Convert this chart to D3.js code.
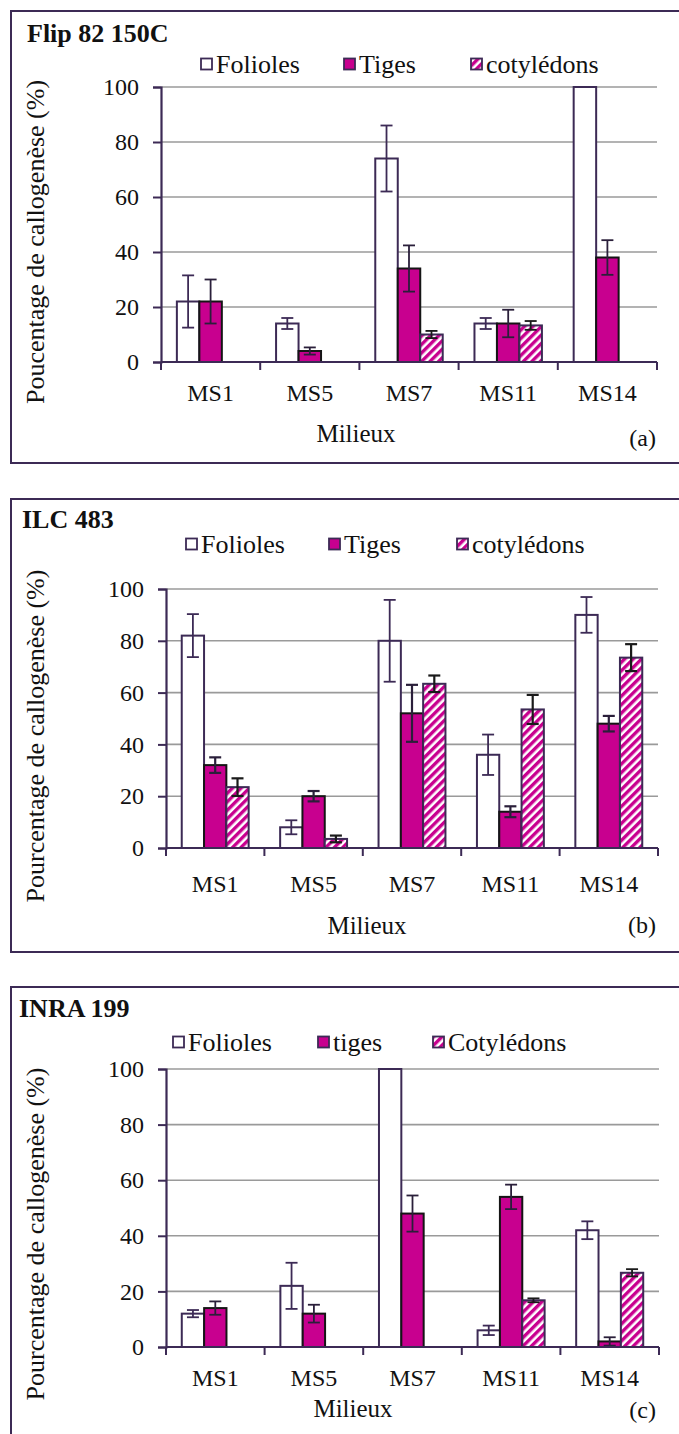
<!DOCTYPE html>
<html><head><meta charset="utf-8">
<script src="https://cdn.jsdelivr.net/npm/d3@7"></script>
<style>html,body{margin:0;padding:0;background:#fff;}svg{display:block;}
svg text{font-family:"Liberation Serif","Times New Roman",serif !important;}</style>
</head><body>
<svg id="c" width="679" height="1434"></svg>
<script>
// ---------- DATA ----------
const categories = ["MS1", "MS5", "MS7", "MS11", "MS14"];
const yTicks = [0, 20, 40, 60, 80, 100];
const panelTitles = ["Flip 82 150C", "ILC 483", "INRA 199"];
const panelLetters = ["(a)", "(b)", "(c)"];
const yTitles = ["Poucentage de callogenèse (%)", "Pourcentage de callogenèse (%)", "Pourcentage de callogenèse (%)"];
const xTitle = "Milieux";
const seriesNamesA = ["Folioles", "Tiges", "cotylédons"];
const seriesNamesB = ["Folioles", "Tiges", "cotylédons"];
const seriesNamesC = ["Folioles", "tiges", "Cotylédons"];

// Panel (a) Flip 82 150C
const folA = [22, 14, 74, 14, 100];
const folErrA = [9.5, 2, 12, 2, 0];
const tigA = [22, 4, 34, 14, 38];
const tigErrA = [8, 1.3, 8.4, 5, 6.3];
const cotA = [0, 0, 10, 13.3, 0];
const cotErrA = [0, 0, 1.3, 1.6, 0];
// Panel (b) ILC 483
const folB = [82, 8, 80, 36, 90];
const folErrB = [8.3, 2.7, 15.8, 7.8, 6.9];
const tigB = [32, 20, 52, 14, 48];
const tigErrB = [3, 2, 11, 2.1, 3];
const cotB = [23.5, 3.5, 63.4, 53.5, 73.5];
const cotErrB = [3.4, 1.3, 3.2, 5.6, 5.2];
// Panel (c) INRA 199
const folC = [12, 22, 100, 6, 42];
const folErrC = [1.3, 8.3, 0, 1.7, 3.2];
const tigC = [14, 12, 48, 54, 2];
const tigErrC = [2.4, 3.2, 6.5, 4.4, 1.5];
const cotC = [0, 0, 0, 16.8, 26.7];
const cotErrC = [0, 0, 0, 0.7, 1.3];

// ---------- LAYOUT / STYLE ----------
const FONT = "Liberation Serif, Times New Roman, serif";
const MAG = "#c8008f";
const DARK = "#3c2a55";
const svg = d3.select("#c");

const defs = svg.append("defs");
const pat = defs.append("pattern").attr("id", "hatch").attr("patternUnits", "userSpaceOnUse")
  .attr("width", 6).attr("height", 6).attr("patternTransform", "rotate(45)");
pat.append("rect").attr("width", 6).attr("height", 6).attr("fill", "#fff");
pat.append("rect").attr("width", 3.4).attr("height", 6).attr("fill", MAG);

const panels = [
  {names: seriesNamesA, vals: [folA, tigA, cotA], errs: [folErrA, tigErrA, cotErrA],
   box: [11, 463], x0: 161, x1: 657, yTop: 87, yBot: 362, titleX: 27, titleY: 42,
   legY: 64, legX: [201, 344, 471], yTitleY: 242, catY: 393, milX: 356, milY: 433, letY: 438},
  {names: seriesNamesB, vals: [folB, tigB, cotB], errs: [folErrB, tigErrB, cotErrB],
   box: [499, 952], x0: 166, x1: 658, yTop: 589, yBot: 848, titleX: 22, titleY: 528,
   legY: 544, legX: [186, 329, 457], yTitleY: 736, catY: 884, milX: 367, milY: 925, letY: 925},
  {names: seriesNamesC, vals: [folC, tigC, cotC], errs: [folErrC, tigErrC, cotErrC],
   box: [987, 1445], x0: 166, x1: 659, yTop: 1069, yBot: 1347, titleX: 19, titleY: 1017,
   legY: 1042, legX: [173, 318, 433], yTitleY: 1234, catY: 1378, milX: 353, milY: 1408, letY: 1410}
];

const fills = ["#fff", MAG, "url(#hatch)"];
const strokes = [DARK, "#151515", DARK];
const errColors = [DARK, "#2a1f3a", "#1a1a1a"];

panels.forEach((p, pi) => {
  const g = svg.append("g");
  g.append("rect").attr("x", 11).attr("y", p.box[0]).attr("width", 700).attr("height", p.box[1] - p.box[0])
    .attr("fill", "none").attr("stroke", DARK).attr("stroke-width", 2);

  const x = d3.scaleBand().domain(categories).range([p.x0, p.x1]).paddingInner(0.32).paddingOuter(0.16);
  const xs = d3.scaleBand().domain([0, 1, 2]).range([0, x.bandwidth()]);
  const y = d3.scaleLinear().domain([0, 100]).range([p.yBot, p.yTop]);

  g.append("g").selectAll("line").data(yTicks.filter(t => t > 0)).join("line")
    .attr("x1", p.x0).attr("x2", p.x1).attr("y1", d => y(d)).attr("y2", d => y(d))
    .attr("stroke", "#9a9a9a").attr("stroke-width", 1.6);

  [0, 1, 2].forEach(s => {
    const vals = p.vals[s];
    g.append("g").selectAll("rect").data(categories).join("rect")
      .attr("x", (d) => x(d) + xs(s))
      .attr("y", (d, i) => y(vals[i]))
      .attr("width", xs.bandwidth())
      .attr("height", (d, i) => y(0) - y(vals[i]))
      .attr("fill", fills[s]).attr("stroke", strokes[s]).attr("stroke-width", 2);
  });

  [0, 1, 2].forEach(s => {
    const vals = p.vals[s], errs = p.errs[s];
    const eg = g.append("g").attr("stroke", errColors[s]).attr("stroke-width", pi === 1 && s > 0 ? 2.2 : 1.8);
    categories.forEach((c, i) => {
      if (!errs[i]) return;
      const cx = x(c) + xs(s) + xs.bandwidth() / 2;
      const hi = y(Math.min(vals[i] + errs[i], 100)), lo = y(vals[i] - errs[i]);
      eg.append("line").attr("x1", cx).attr("x2", cx).attr("y1", hi).attr("y2", lo);
      eg.append("line").attr("x1", cx - 6).attr("x2", cx + 6).attr("y1", hi).attr("y2", hi);
      eg.append("line").attr("x1", cx - 6).attr("x2", cx + 6).attr("y1", lo).attr("y2", lo);
    });
  });

  const yAx = g.append("g").attr("transform", `translate(${p.x0},0)`)
    .call(d3.axisLeft(y).tickValues(yTicks).tickSize(8).tickPadding(14));
  yAx.attr("font-family", FONT);
  yAx.select(".domain").attr("stroke", DARK).attr("stroke-width", 2.2);
  yAx.selectAll(".tick line").attr("stroke", DARK).attr("stroke-width", 2);
  yAx.selectAll(".tick text").attr("font-family", FONT).attr("font-size", 24).attr("fill", "#111");

  const bounds = categories.map(c => x(c) - x.step() * x.paddingInner() / 2).concat([p.x1]);
  g.append("line").attr("x1", p.x0).attr("x2", p.x1).attr("y1", y(0)).attr("y2", y(0))
    .attr("stroke", DARK).attr("stroke-width", 2.2);
  g.append("g").selectAll("line").data(bounds).join("line")
    .attr("x1", d => d).attr("x2", d => d).attr("y1", y(0)).attr("y2", y(0) + 8)
    .attr("stroke", DARK).attr("stroke-width", 2);
  g.append("g").selectAll("text").data(categories).join("text")
    .attr("x", d => x(d) + x.bandwidth() / 2).attr("y", p.catY)
    .attr("text-anchor", "middle").attr("dominant-baseline", "central")
    .attr("font-family", FONT).attr("font-size", 24).attr("fill", "#111").text(d => d);

  g.append("text").attr("x", p.titleX).attr("y", p.titleY).attr("font-family", FONT)
    .attr("font-weight", "bold").attr("font-size", 26).attr("fill", "#111").text(panelTitles[pi]);
  g.append("text").attr("transform", `translate(35,${p.yTitleY}) rotate(-90)`)
    .attr("text-anchor", "middle").attr("dominant-baseline", "central")
    .attr("font-family", FONT).attr("font-size", 26).attr("fill", "#111").text(yTitles[pi]);
  g.append("text").attr("x", p.milX).attr("y", p.milY).attr("text-anchor", "middle")
    .attr("dominant-baseline", "central").attr("font-family", FONT).attr("font-size", 25)
    .attr("fill", "#111").text(xTitle);
  g.append("text").attr("x", 656).attr("y", p.letY).attr("text-anchor", "end")
    .attr("dominant-baseline", "central").attr("font-family", FONT).attr("font-size", 24)
    .attr("fill", "#111").text(panelLetters[pi]);

  p.names.forEach((n, s) => {
    const lx = p.legX[s];
    g.append("rect").attr("x", lx).attr("y", p.legY - 5.5).attr("width", 11).attr("height", 11)
      .attr("fill", fills[s]).attr("stroke", DARK).attr("stroke-width", 1.8);
    g.append("text").attr("x", lx + 15).attr("y", p.legY).attr("dominant-baseline", "central")
      .attr("font-family", FONT).attr("font-size", 26).attr("fill", "#111").text(n);
  });
});
</script>
</body></html>
